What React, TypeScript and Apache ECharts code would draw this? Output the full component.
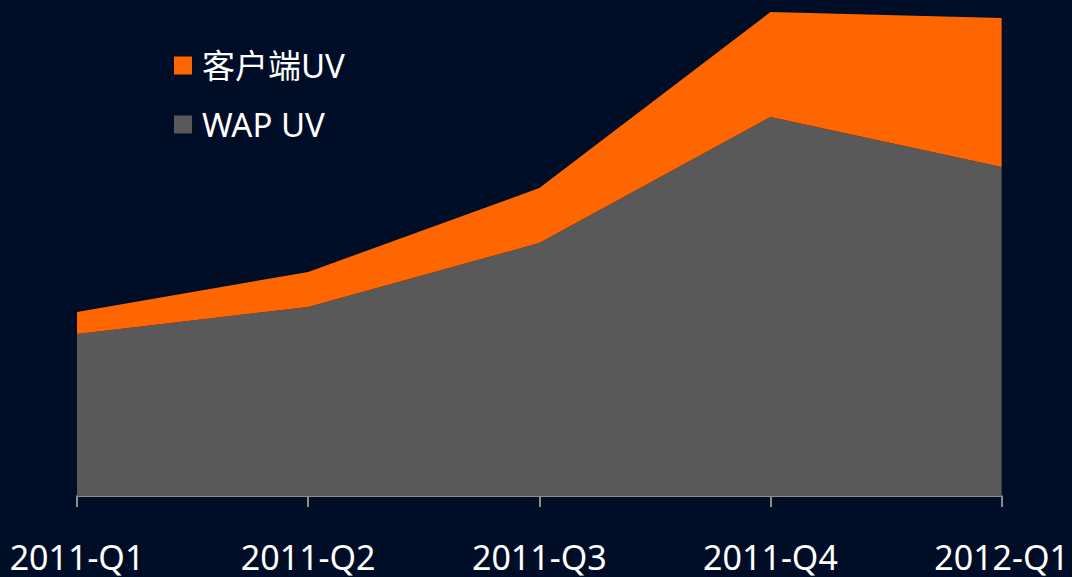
import React, { useEffect, useRef } from "react";
import * as echarts from "echarts";

const categories = ["2011-Q1", "2011-Q2", "2011-Q3", "2011-Q4", "2012-Q1"];
const wapUV = [162, 189, 253, 379, 329];
const clientUV = [22, 35, 55, 105, 149];

export default function App() {
  const ref = useRef<HTMLDivElement>(null);
  useEffect(() => {
    const chart = echarts.init(ref.current!, null, { renderer: "svg" });
    chart.setOption({
      animation: false,
      backgroundColor: "#000d26",
      textStyle: { fontFamily: "Noto Sans, Noto Sans CJK SC, sans-serif" },
      legend: {
        orient: "vertical",
        left: 169,
        top: 44,
        itemWidth: 18,
        itemHeight: 18,
        itemGap: 26,
        icon: "rect",
        data: ["客户端UV", "WAP UV"],
        textStyle: { color: "#ffffff", fontSize: 33, padding: [0, 0, 0, 5] },
      },
      grid: { left: 77, right: 69, top: 0, bottom: 81 },
      xAxis: {
        type: "category",
        boundaryGap: false,
        data: categories,
        axisLine: { lineStyle: { color: "#8c8c8c", width: 2 } },
        axisTick: { show: true, length: 11, lineStyle: { color: "#8c8c8c", width: 2 } },
        axisLabel: { color: "#ffffff", fontSize: 34, margin: 44 },
      },
      yAxis: {
        type: "value",
        min: 0,
        max: 496,
        show: false,
        splitLine: { show: false },
      },
      series: [
        {
          name: "WAP UV",
          type: "line",
          stack: "total",
          data: wapUV,
          symbol: "none",
          lineStyle: { width: 0 },
          areaStyle: { color: "#595959", opacity: 1 },
          itemStyle: { color: "#595959" },
        },
        {
          name: "客户端UV",
          type: "line",
          stack: "total",
          data: clientUV,
          symbol: "none",
          lineStyle: { width: 0 },
          areaStyle: { color: "#ff6600", opacity: 1 },
          itemStyle: { color: "#ff6600" },
        },
      ],
    });
    return () => chart.dispose();
  }, []);
  return <div ref={ref} style={{ width: 1072, height: 577, position: "fixed", left: 0, top: 0 }} />;
}
